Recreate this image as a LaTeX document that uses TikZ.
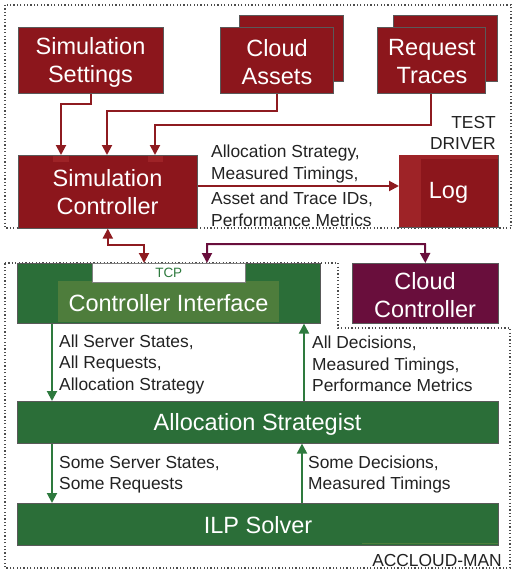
\documentclass[tikz,border=0pt]{standalone}
\usepackage{fontspec}
\setmainfont{Liberation Sans}
\usetikzlibrary{arrows.meta}
\definecolor{boxred}{HTML}{8C161C}
\definecolor{boxredlight}{HTML}{9E2327}
\definecolor{arrred}{HTML}{8E1B20}
\definecolor{boxgreen}{HTML}{2B6E38}
\definecolor{boxgreenlight}{HTML}{4E7D3C}
\definecolor{arrgreen}{HTML}{2E7A3E}
\definecolor{boxpurple}{HTML}{690E3C}
\definecolor{labeltext}{HTML}{222222}
\tikzset{
  blk/.style={draw=black!65, line width=0.6pt, inner sep=0pt, anchor=north west},
  redbox/.style={blk, fill=boxred},
  greenbox/.style={blk, fill=boxgreen},
  purplebox/.style={blk, fill=boxpurple},
  boxtext/.style={text=white, align=center, inner sep=0pt, font=\fontsize{23.5}{28}\selectfont},
  lbl/.style={inner sep=0pt, anchor=west, align=left, text=labeltext, font=\fontsize{17.4}{21.5}\selectfont},
  tip/.style={Triangle[length=10pt,width=10pt]},
  redarr/.style={draw=arrred, line width=2pt, -{Triangle[length=10pt,width=10pt]}},
  reddbl/.style={draw=arrred, line width=2pt, {Triangle[length=10pt,width=10pt]}-{Triangle[length=10pt,width=10pt]}},
  purpdbl/.style={draw=boxpurple, line width=2pt, {Triangle[length=10pt,width=10pt]}-{Triangle[length=10pt,width=10pt]}},
  greenarr/.style={draw=arrgreen, line width=2pt, -{Triangle[length=10pt,width=10pt]}},
  frame/.style={draw=black!70, line width=1.3pt, dash pattern=on 1.2pt off 2.2pt},
}
\begin{document}
\begin{tikzpicture}[x=1pt,y=-1pt]
\useasboundingbox (0,0) rectangle (517,575);
% frames
\draw[frame] (5,5) rectangle (511,228);
\draw[frame] (5,263) -- (338,263) -- (338,328) -- (510,328) -- (510,568) -- (5,568) -- cycle;
% test driver boxes
\node[redbox, minimum width=145pt, minimum height=66pt] (ss) at (18,27) {};
\node[boxtext] (sstext) at (90.5,62) {Simulation\\Settings};
\node[redbox, minimum width=104pt, minimum height=66pt] (caback) at (239,15) {};
\node[redbox, minimum width=113pt, minimum height=66pt] (ca) at (220,27) {};
\node[boxtext] (catext) at (277,62) {Cloud\\Assets};
\node[redbox, minimum width=104pt, minimum height=66pt] (rtback) at (393,15) {};
\node[redbox, minimum width=108pt, minimum height=66pt] (rt) at (377,27) {};
\node[boxtext] (rttext) at (432,62) {Request\\Traces};
\node[redbox, minimum width=179pt, minimum height=73pt] (sc) at (18,155) {};
\fill[boxredlight] (53,155.5) rectangle (69,162);
\fill[boxredlight] (148,155.5) rectangle (163,162);
\node[boxtext] (sctext) at (107.5,192.5) {Simulation\\Controller};
\node[redbox, minimum width=99pt, minimum height=72pt] (log) at (399,155) {};
\fill[boxredlight] (399.4,155.4) rectangle (421,226.6);
\fill[boxredlight] (421,155.4) rectangle (497.6,159);
\node[boxtext] (logtext) at (448.5,193) {Log};
\node[lbl, anchor=east, align=right] (td) at (496,133) {TEST\\DRIVER};
% connectors test driver
\coordinate (k1) at (61,104);
\coordinate (k2) at (107,111);
\coordinate (k3) at (155,125);
\draw[redarr] (ss.south) |- (k1) -- (k1 |- sc.north);
\draw[redarr] (ca.south) |- (k2) -- (k2 |- sc.north);
\draw[redarr] (rt.south) |- (k3) -- (k3 |- sc.north);
\coordinate (k4) at (300,186);
\draw[redarr] (sc.east |- k4) -- (k4 -| log.west);
\node[lbl] (lab1) at (211,164) {Allocation Strategy,\\Measured Timings,};
\node[lbl] (lab2) at (211,209.5) {Asset and Trace IDs,\\Performance Metrics};
% accloud-man
\node[greenbox, minimum width=303pt, minimum height=60pt] (ci) at (17,263) {};
\node[blk, draw=none, fill=boxgreenlight, minimum width=221pt, minimum height=41pt] (cii) at (58,281) {};
\node[boxtext] (citext) at (168.5,303.5) {Controller Interface};
\node[blk, fill=white, draw=black!50, line width=0.5pt, minimum width=153pt, minimum height=19pt, text=arrgreen,
  font=\fontsize{13.5}{15}\selectfont] (tcp) at (92,263) {TCP};
\node[purplebox, minimum width=146pt, minimum height=60pt] (cc) at (352,263) {};
\node[boxtext] (cctext) at (425,295.5) {Cloud\\Controller};
\node[greenbox, minimum width=481pt, minimum height=42pt] (as) at (17,401) {};
\node[boxtext] (astext) at (257.5,424.5) {Allocation Strategist};
\node[greenbox, minimum width=481pt, minimum height=42pt] (ilp) at (17,503) {};
\node[boxtext] (ilptext) at (258,525.5) {ILP Solver};
\draw[boxgreenlight, line width=1.5pt] (362,543.5) -- (497.5,543.5);
% connectors
\coordinate (k5) at (144,245);
\draw[reddbl] (sc.south) |- (k5) -- (k5 |- tcp.north);
\coordinate (k6) at (207,244);
\coordinate (k7) at (425,244);
\draw[purpdbl] (k6 |- tcp.north) -- (k6) -- (k7) -- (cc.north);
\coordinate (k8) at (52,0);
\coordinate (k9) at (304,0);
\coordinate (k10) at (302,0);
\draw[greenarr] (k8 |- ci.south) -- (k8 |- as.north);
\draw[greenarr] (k9 |- as.north) -- (k9 |- ci.south);
\draw[greenarr] (k8 |- as.south) -- (k8 |- ilp.north);
\draw[greenarr] (k10 |- ilp.north) -- (k10 |- as.south);
\node[lbl] (lab3) at (59,364) {All Server States,\\All Requests,\\Allocation Strategy};
\node[lbl] (lab4) at (312,364) {All Decisions,\\Measured Timings,\\Performance Metrics};
\node[lbl] (lab5) at (59,474.5) {Some Server States,\\Some Requests};
\node[lbl] (lab6) at (308,474.5) {Some Decisions,\\Measured Timings};
\node[lbl, anchor=east] (am) at (502,561) {ACCLOUD-MAN};
\end{tikzpicture}
\end{document}
